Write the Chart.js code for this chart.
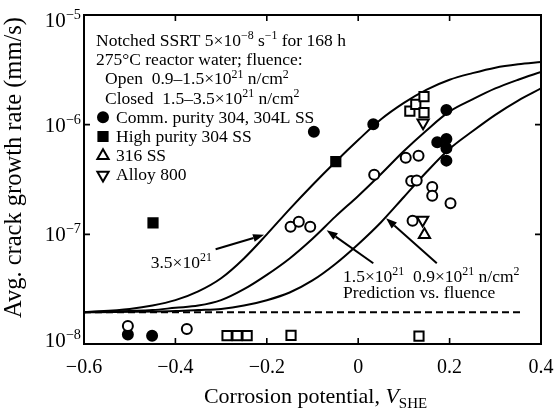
<!DOCTYPE html>
<html>
<head>
<meta charset="utf-8">
<script src="https://cdn.jsdelivr.net/npm/chart.js@4.4.0/dist/chart.umd.min.js"></script>
<style>
  html, body { margin: 0; padding: 0; background: #fff; }
  #chart { display: block; }
</style>
</head>
<body>
<canvas id="chart" width="557" height="419"></canvas>
<script>
// ---- data ----
// prediction curves (V_SHE, mm/s)
const curve35X = [-0.6, -0.5, -0.45, -0.4, -0.35, -0.3, -0.25, -0.2, -0.15, -0.1, -0.05, 0, 0.05, 0.1, 0.15, 0.2, 0.25, 0.3, 0.35, 0.4];
const curve35Y = [1.95e-8, 2.09e-8, 2.24e-8, 2.51e-8, 3.02e-8, 3.98e-8, 6.03e-8, 1.0e-7, 1.70e-7, 2.82e-7, 4.57e-7, 7.24e-7, 1.12e-6, 1.58e-6, 2.09e-6, 2.57e-6, 2.95e-6, 3.31e-6, 3.55e-6, 3.72e-6];
const curve15X = [-0.6, -0.5, -0.45, -0.4, -0.35, -0.3, -0.25, -0.2, -0.15, -0.1, -0.05, 0, 0.05, 0.1, 0.15, 0.2, 0.25, 0.3, 0.35, 0.4];
const curve15Y = [1.95e-8, 2.0e-8, 2.04e-8, 2.14e-8, 2.24e-8, 2.51e-8, 3.16e-8, 4.27e-8, 6.03e-8, 9.12e-8, 1.45e-7, 2.24e-7, 3.55e-7, 5.75e-7, 8.91e-7, 1.32e-6, 1.70e-6, 2.14e-6, 2.57e-6, 3.02e-6];
const curve09X = [-0.6, -0.4, -0.35, -0.3, -0.25, -0.2, -0.15, -0.1, -0.05, 0, 0.05, 0.1, 0.15, 0.2, 0.25, 0.3, 0.35, 0.4];
const curve09Y = [1.95e-8, 2.0e-8, 2.04e-8, 2.09e-8, 2.24e-8, 2.51e-8, 2.95e-8, 3.80e-8, 5.37e-8, 8.13e-8, 1.29e-7, 2.19e-7, 3.72e-7, 6.03e-7, 8.71e-7, 1.23e-6, 1.66e-6, 2.14e-6];
const floorX = [-0.6, 0.358];
const floorY = [1.95e-8, 1.95e-8];

// measured points
const commClosedX = [-0.504, -0.451, -0.097, 0.033, 0.193, 0.173, 0.193, 0.193, 0.193];
const commClosedY = [1.22e-8, 1.19e-8, 8.6e-7, 1.01e-6, 1.36e-6, 6.9e-7, 7.4e-7, 6.1e-7, 4.7e-7];
const commOpenX = [-0.504, -0.375, -0.148, -0.130, -0.105, 0.035, 0.104, 0.132, 0.116, 0.128, 0.162, 0.162, 0.202, 0.119];
const commOpenY = [1.46e-8, 1.37e-8, 1.17e-7, 1.30e-7, 1.17e-7, 3.5e-7, 5.0e-7, 5.2e-7, 3.06e-7, 3.1e-7, 2.7e-7, 2.25e-7, 1.92e-7, 1.33e-7];
const hpClosedX = [-0.449, -0.049];
const hpClosedY = [1.27e-7, 4.6e-7];
const hpOpenX = [-0.287, -0.265, -0.243, -0.147, 0.133, 0.113, 0.126, 0.144, 0.144];
const hpOpenY = [1.19e-8, 1.19e-8, 1.19e-8, 1.2e-8, 1.18e-8, 1.33e-6, 1.53e-6, 1.80e-6, 1.29e-6];
const ss316X = [0.145];
const ss316Y = [9.9e-8];
const alloy800X = [0.142, 0.141];
const alloy800Y = [1.04e-6, 1.35e-7];

const xTicks = [-0.6, -0.4, -0.2, 0, 0.2, 0.4];
const xTickLabels = ['\u22120.6', '\u22120.4', '\u22120.2', '0', '0.2', '0.4'];
const yTickExps = [-8, -7, -6, -5];

const FONT = '"Liberation Serif", "Times New Roman", serif';

const pts = (xs, ys) => xs.map((x, i) => ({ x, y: ys[i] }));

// ---- rich text (sup / sub / italic) ----
function partFont(p, size) {
    const s = (p.s === 'sup' || p.s === 'sub') ? size * 0.68 : size;
    return (p.it ? 'italic ' : '') + s + 'px ' + FONT;
}

function richWidth(ctx, parts, size) {
    let w = 0;
    parts.forEach(p => { ctx.font = partFont(p, size); w += ctx.measureText(p.t).width; });
    return w;
}

function drawRich(ctx, parts, x, y, size, align) {
    const w = richWidth(ctx, parts, size);
    let cx = align === 'center' ? x - w / 2 : (align === 'right' ? x - w : x);
    ctx.textAlign = 'left';
    ctx.textBaseline = 'alphabetic';
    parts.forEach(p => {
        ctx.font = partFont(p, size);
        let dy = 0;
        if (p.s === 'sup') dy = -size * 0.38;
        if (p.s === 'sub') dy = size * 0.22;
        ctx.fillText(p.t, cx, y + dy);
        cx += ctx.measureText(p.t).width;
    });
}

function arrow(ctx, x1, y1, x2, y2) {
    const ang = Math.atan2(y2 - y1, x2 - x1);
    const len = 11, half = 4;
    const bx = x2 - len * Math.cos(ang), by = y2 - len * Math.sin(ang);
    ctx.beginPath();
    ctx.moveTo(x1, y1);
    ctx.lineTo(bx, by);
    ctx.stroke();
    ctx.beginPath();
    ctx.moveTo(x2, y2);
    ctx.lineTo(bx + half * Math.sin(ang), by - half * Math.cos(ang));
    ctx.lineTo(bx - half * Math.sin(ang), by + half * Math.cos(ang));
    ctx.closePath();
    ctx.fill();
}

const frameAndText = {
    id: 'frameAndText',
    afterDraw(chart) {
        const { ctx, chartArea: a, scales } = chart;
        const sx = v => scales.x.getPixelForValue(v);
        const sy = v => scales.y.getPixelForValue(v);
        ctx.save();
        ctx.strokeStyle = '#000';
        ctx.fillStyle = '#000';

        // frame
        ctx.lineWidth = 2;
        ctx.strokeRect(a.left, a.top, a.right - a.left, a.bottom - a.top);

        // inward ticks on all four sides
        ctx.lineWidth = 1.6;
        const tl = 6;
        ctx.beginPath();
        xTicks.forEach(v => {
            const px = sx(v);
            ctx.moveTo(px, a.bottom); ctx.lineTo(px, a.bottom - tl);
            ctx.moveTo(px, a.top); ctx.lineTo(px, a.top + tl);
        });
        yTickExps.forEach(e => {
            const py = sy(Math.pow(10, e));
            ctx.moveTo(a.left, py); ctx.lineTo(a.left + tl, py);
            ctx.moveTo(a.right, py); ctx.lineTo(a.right - tl, py);
        });
        ctx.stroke();

        // tick labels
        ctx.font = '20px ' + FONT;
        ctx.textAlign = 'center';
        ctx.textBaseline = 'middle';
        xTicks.forEach((v, i) => ctx.fillText(xTickLabels[i], sx(v), a.bottom + 24));
        yTickExps.forEach(e => {
            const py = Math.min(Math.max(sy(Math.pow(10, e)), a.top + 5), a.bottom - 4);
            drawRich(ctx, [{ t: '10' }, { t: '\u2212' + Math.abs(e), s: 'sup' }], a.left - 3, py + 7, 21, 'right');
        });

        // axis titles
        drawRich(ctx, [{ t: 'Corrosion potential, ' }, { t: 'V', it: true }, { t: 'SHE', s: 'sub' }],
            (a.left + a.right) / 2 + 3, a.bottom + 59, 22, 'center');
        ctx.save();
        ctx.translate(15, (a.top + a.bottom) / 2 - 12);
        ctx.rotate(-Math.PI / 2);
        ctx.font = '24.5px ' + FONT;
        ctx.textAlign = 'center';
        ctx.textBaseline = 'middle';
        ctx.fillText('Avg. crack growth rate (mm/s)', 0, 0);
        ctx.restore();

        // legend block
        const fs = 17.5;
        const lx = a.left + 12, lh = 19.2;
        let ly = a.top + 31;
        drawRich(ctx, [{ t: 'Notched SSRT 5\u00d710' }, { t: '\u22128', s: 'sup' }, { t: ' s' }, { t: '\u22121', s: 'sup' }, { t: ' for 168 h' }], lx, ly, fs);
        ly += lh;
        drawRich(ctx, [{ t: '275\u00b0C reactor water; fluence:' }], lx, ly, fs);
        ly += lh;
        drawRich(ctx, [{ t: 'Open  0.9\u20131.5\u00d710' }, { t: '21', s: 'sup' }, { t: ' n/cm' }, { t: '2', s: 'sup' }], lx + 9, ly, fs);
        ly += lh;
        drawRich(ctx, [{ t: 'Closed  1.5\u20133.5\u00d710' }, { t: '21', s: 'sup' }, { t: ' n/cm' }, { t: '2', s: 'sup' }], lx + 9, ly, fs);
        const items = [
            { style: 'circle', r: 5, fill: '#000', rot: 0, text: 'Comm. purity 304, 304L SS' },
            { style: 'rect', r: 6.5, fill: '#000', rot: 0, text: 'High purity 304 SS' },
            { style: 'triangle', r: 6.5, fill: '#fff', rot: 0, text: '316 SS' },
            { style: 'triangle', r: 6.5, fill: '#fff', rot: 180, text: 'Alloy 800' }
        ];
        items.forEach(it => {
            ly += lh;
            ctx.fillStyle = it.fill;
            ctx.strokeStyle = '#000';
            ctx.lineWidth = 2;
            Chart.helpers.drawPoint(ctx, { pointStyle: it.style, radius: it.r, rotation: it.rot, borderWidth: 2 }, lx + 7, ly - 5.5);
            ctx.fillStyle = '#000';
            drawRich(ctx, [{ t: it.text }], lx + 20, ly, fs);
        });

        // annotations and arrows
        ctx.lineWidth = 2;
        arrow(ctx, sx(-0.312), sy(7.3e-8), sx(-0.206), sy(9.9e-8));
        arrow(ctx, sx(0.033), sy(5.45e-8), sx(-0.069), sy(1.09e-7));
        arrow(ctx, sx(0.172), sy(5.45e-8), sx(0.061), sy(1.4e-7));
        drawRich(ctx, [{ t: '3.5\u00d710' }, { t: '21', s: 'sup' }], sx(-0.454), sy(4.93e-8), fs);
        drawRich(ctx, [{ t: '1.5\u00d710' }, { t: '21', s: 'sup' }, { t: '  0.9\u00d710' }, { t: '21', s: 'sup' }, { t: ' n/cm' }, { t: '2', s: 'sup' }],
            sx(-0.033), sy(3.7e-8), fs);
        drawRich(ctx, [{ t: 'Prediction vs. fluence' }], sx(-0.033), sy(2.62e-8), fs);

        ctx.restore();
    }
};

const lineSet = (xs, ys, dash) => ({
    type: 'line',
    data: pts(xs, ys),
    borderColor: '#000',
    borderWidth: 2,
    borderDash: dash || [],
    pointRadius: 0,
    fill: false,
    cubicInterpolationMode: 'monotone',
    order: 2
});

const markSet = (xs, ys, style, filled, r, rot) => ({
    type: 'scatter',
    data: pts(xs, ys),
    pointStyle: style,
    pointRadius: r,
    pointRotation: rot || 0,
    pointBackgroundColor: filled ? '#000' : '#fff',
    pointBorderColor: '#000',
    pointBorderWidth: 2,
    order: 1
});

new Chart(document.getElementById('chart'), {
    type: 'scatter',
    data: {
        datasets: [
            lineSet(curve35X, curve35Y),
            lineSet(curve15X, curve15Y),
            lineSet(curve09X, curve09Y),
            lineSet(floorX, floorY, [7, 4]),
            markSet(commOpenX, commOpenY, 'circle', false, 5),
            markSet(commClosedX, commClosedY, 'circle', true, 5),
            markSet(hpOpenX, hpOpenY, 'rect', false, 6.5),
            markSet(hpClosedX, hpClosedY, 'rect', true, 6.5),
            markSet(ss316X, ss316Y, 'triangle', false, 6.5),
            markSet(alloy800X, alloy800Y, 'triangle', false, 6.5, 180)
        ]
    },
    options: {
        responsive: false,
        animation: false,
        devicePixelRatio: 1,
        layout: { padding: { left: 84, top: 15, right: 16, bottom: 75 } },
        plugins: { legend: { display: false }, tooltip: { enabled: false } },
        scales: {
            x: { type: 'linear', min: -0.6, max: 0.4, display: false },
            y: { type: 'logarithmic', min: 1e-8, max: 1e-5, display: false }
        }
    },
    plugins: [frameAndText]
});
</script>
</body>
</html>
